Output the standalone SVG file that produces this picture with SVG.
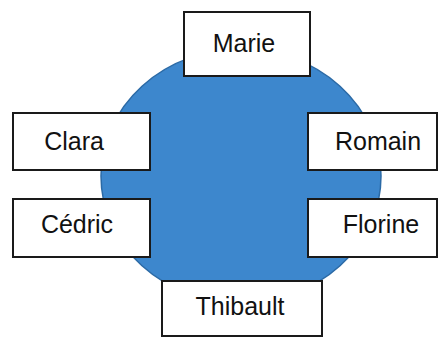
<svg xmlns="http://www.w3.org/2000/svg" width="440" height="338" viewBox="0 0 440 338">
  <style>
    .box { fill: #ffffff; stroke: #1a1a1a; stroke-width: 2; }
    .lbl { font-family: "Liberation Sans", Arial, sans-serif; font-size: 25px; fill: #111111; text-anchor: middle; }
    .hub { fill: #3d87cd; stroke: #2b6aa6; stroke-width: 1.5; }
  </style>
  <rect x="0" y="0" width="440" height="338" fill="#ffffff"/>
  <g id="hub">
    <ellipse class="hub" cx="241" cy="176" rx="140" ry="127"/>
  </g>
  <g id="marie">
    <rect class="box" x="184" y="12" width="126" height="64"/>
    <text class="lbl" x="244" y="51.5">Marie</text>
  </g>
  <g id="clara">
    <rect class="box" x="13" y="113" width="137" height="57"/>
    <text class="lbl" x="74" y="150">Clara</text>
  </g>
  <g id="romain">
    <rect class="box" x="308" y="113" width="129" height="57"/>
    <text class="lbl" x="378" y="150">Romain</text>
  </g>
  <g id="cedric">
    <rect class="box" x="13" y="199" width="137" height="58"/>
    <text class="lbl" x="77" y="233">Cédric</text>
  </g>
  <g id="florine">
    <rect class="box" x="308" y="199" width="129" height="58"/>
    <text class="lbl" x="381" y="233">Florine</text>
  </g>
  <g id="thibault">
    <rect class="box" x="162" y="281" width="160" height="55"/>
    <text class="lbl" x="240" y="315">Thibault</text>
  </g>
</svg>
